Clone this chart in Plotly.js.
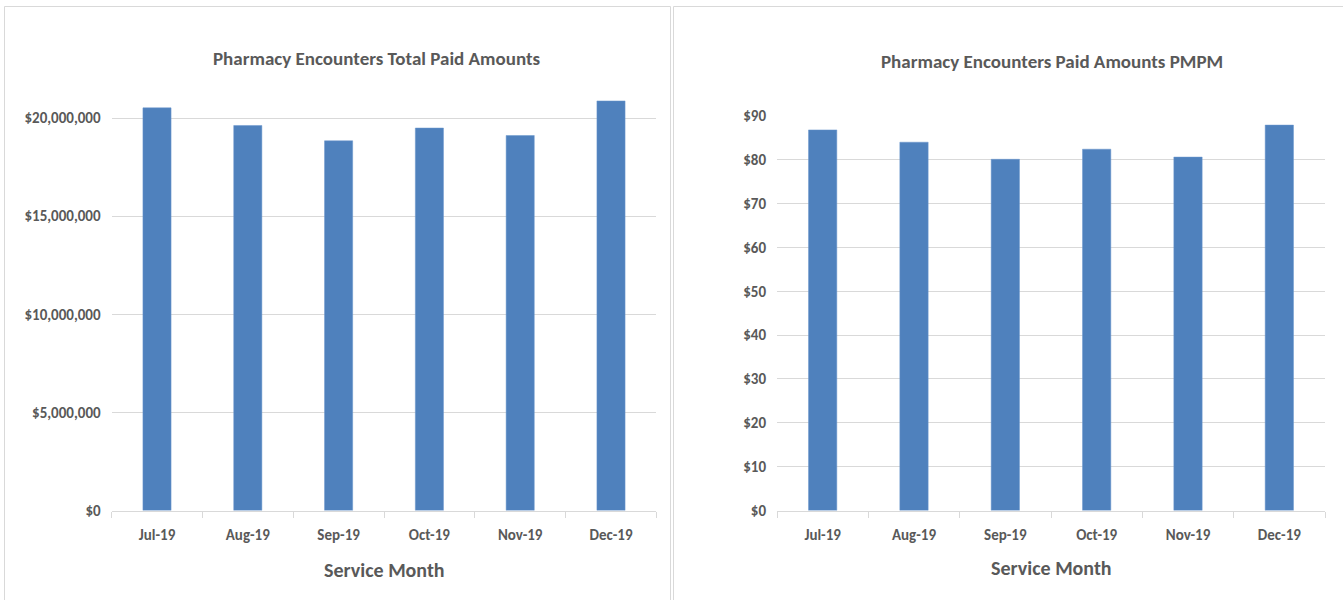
<!DOCTYPE html>
<html>
<head>
<meta charset="utf-8">
<script src="https://cdn.plot.ly/plotly-3.0.1.min.js"></script>
<style>html,body{margin:0;padding:0;background:#fff;}#chart{width:1343px;height:600px;}</style>
</head>
<body>
<div id="chart"></div>
<script>
const months = ["Jul-19", "Aug-19", "Sep-19", "Oct-19", "Nov-19", "Dec-19"];
const totalPaid = [20520000, 19620000, 18840000, 19490000, 19110000, 20870000];
const pmpmPaid = [86.8, 84.0, 80.1, 82.4, 80.6, 87.9];
const totalTickVals = [0, 5000000, 10000000, 15000000, 20000000];
const totalTickText = ["$0", "$5,000,000", "$10,000,000", "$15,000,000", "$20,000,000"];
const pmpmTickVals = [0, 10, 20, 30, 40, 50, 60, 70, 80, 90];
const pmpmTickText = ["$0", "$10", "$20", "$30", "$40", "$50", "$60", "$70", "$80", "$90"];
const titles = ["Pharmacy Encounters Total Paid Amounts", "Pharmacy Encounters Paid Amounts PMPM"];
const xTitle = "Service Month";

const W = 1343, H = 600;
const px = x => x / W;
const py = y => 1 - y / H;
const FONT = "Carlito, 'Liberation Sans Narrow', 'Open Sans', sans-serif";
const TXT = "#595959";
const GRID = "#D9D9D9";
const BAR = "#4F81BD";

const traces = [
  {type: "bar", x: months, y: totalPaid, xaxis: "x", yaxis: "y",
   marker: {color: BAR, line: {color: "#6A96CC", width: 0.5}}, hoverinfo: "x+y"},
  {type: "bar", x: months, y: pmpmPaid, xaxis: "x2", yaxis: "y2",
   marker: {color: BAR, line: {color: "#6A96CC", width: 0.5}}, hoverinfo: "x+y"}
];

const xCommon = {
  type: "category", showgrid: false, showline: true, linecolor: GRID, linewidth: 1,
  ticks: "outside", tickson: "boundaries", ticklen: 6, tickcolor: GRID,
  tickfont: {family: FONT, size: 15, color: TXT, weight: "bold"},
  ticklabelstandoff: 10, fixedrange: true
};
const yCommon = {
  showgrid: true, gridcolor: GRID, gridwidth: 1, showline: false, zeroline: false,
  ticks: "", tickfont: {family: FONT, size: 15, color: TXT, weight: "bold"},
  tickmode: "array", ticklabelstandoff: 10, fixedrange: true
};

const layout = {
  width: W, height: H,
  margin: {l: 0, r: 0, t: 0, b: 0},
  paper_bgcolor: "#fff", plot_bgcolor: "#fff",
  showlegend: false, bargap: 0.69,
  font: {family: FONT, color: TXT},
  xaxis: Object.assign({}, xCommon, {domain: [px(111.6), px(656.4)], anchor: "y"}),
  yaxis: Object.assign({}, yCommon, {domain: [py(510.5), py(98.4)], range: [0, 21000000],
    tickvals: totalTickVals, ticktext: totalTickText, anchor: "x"}),
  xaxis2: Object.assign({}, xCommon, {domain: [px(777), px(1325)], anchor: "y2"}),
  yaxis2: Object.assign({}, yCommon, {domain: [py(510.5), py(115)], range: [0, 90.2],
    tickvals: pmpmTickVals, ticktext: pmpmTickText, anchor: "x2"}),
  shapes: [
    {type: "rect", xref: "paper", yref: "paper", x0: px(4.5), x1: px(670.5), y0: py(610), y1: py(6.5),
     line: {color: GRID, width: 1}, layer: "below"},
    {type: "rect", xref: "paper", yref: "paper", x0: px(673.5), x1: px(1350), y0: py(610), y1: py(6.5),
     line: {color: GRID, width: 1}, layer: "below"}
  ],
  annotations: [
    {text: titles[0], xref: "paper", yref: "paper", x: px(377), y: py(58), xanchor: "center", yanchor: "middle",
     showarrow: false, font: {family: FONT, size: 19, color: TXT, weight: "bold"}},
    {text: titles[1], xref: "paper", yref: "paper", x: px(1052), y: py(62), xanchor: "center", yanchor: "middle",
     showarrow: false, font: {family: FONT, size: 19, color: TXT, weight: "bold"}},
    {text: xTitle, xref: "paper", yref: "paper", x: px(384), y: py(570), xanchor: "center", yanchor: "middle",
     showarrow: false, font: {family: FONT, size: 20, color: TXT, weight: "bold"}},
    {text: xTitle, xref: "paper", yref: "paper", x: px(1051), y: py(568), xanchor: "center", yanchor: "middle",
     showarrow: false, font: {family: FONT, size: 20, color: TXT, weight: "bold"}}
  ]
};

Plotly.newPlot("chart", traces, layout, {displayModeBar: false, staticPlot: true});
</script>
</body>
</html>
